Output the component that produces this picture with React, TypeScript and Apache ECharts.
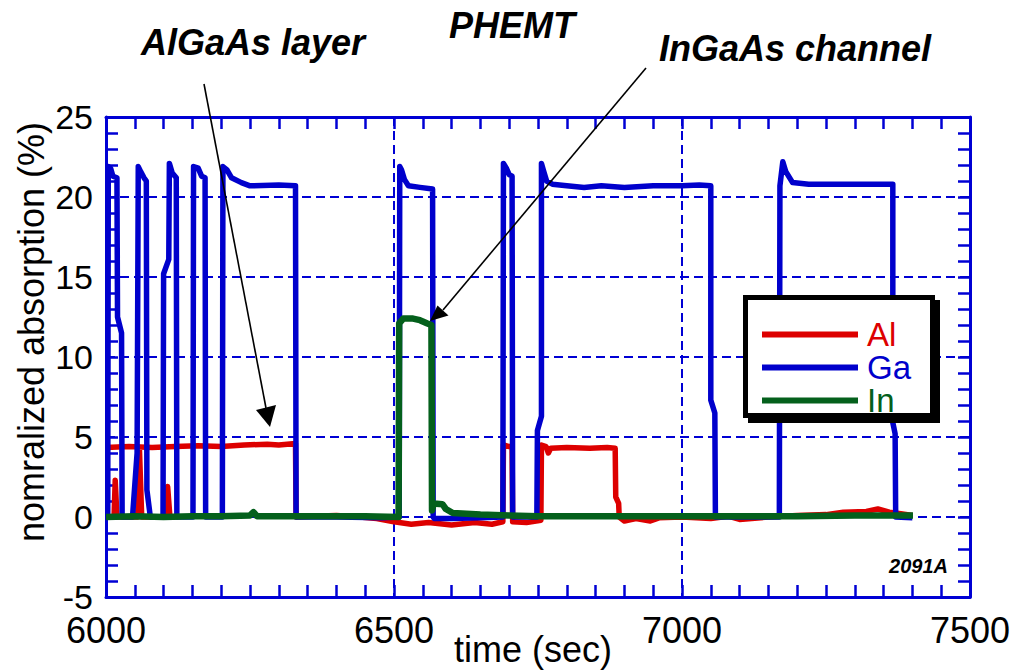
import React, { useEffect, useRef } from 'react';
import * as echarts from 'echarts';

const FONT = 'Arial, "Liberation Sans", Helvetica, sans-serif';
const AXIS_BLUE = '#0000d4';

const seriesNames = ['Al', 'Ga', 'In'];
const seriesColors = ['#dd0000', '#0000cc', '#04601c'];

const xTicks = [6000, 6500, 7000, 7500];
const yTicks = [-5, 0, 5, 10, 15, 20, 25];

// Ga (blue)
const gaTimes = [
  6000, 6003, 6004, 6008, 6012, 6019, 6020, 6027, 6028,
  6046, 6054, 6056, 6060, 6066, 6070, 6071, 6077,
  6099, 6100, 6109, 6110, 6115, 6122, 6123,
  6151, 6152, 6160, 6166, 6172, 6173,
  6202, 6203, 6210, 6218, 6235, 6250, 6300, 6329, 6330,
  6400, 6480, 6509, 6510, 6513, 6518, 6525, 6545, 6567, 6568,
  6570, 6600, 6650, 6689, 6690, 6695, 6700, 6705, 6706,
  6748, 6749, 6756, 6756, 6760, 6765, 6775, 6800, 6830, 6860, 6900, 6950, 7000, 7030, 7050, 7050, 7057, 7058,
  7120, 7169, 7170, 7175, 7180, 7192, 7220, 7300, 7366, 7366, 7370, 7371, 7400,
];
const gaValues = [
  0, 0, 21.9, 21.8, 21.3, 21.2, 12.5, 11.5, 0,
  0, 4.0, 21.9, 21.6, 21.2, 21.0, 1.7, 0,
  0, 15.2, 16.1, 22.1, 21.5, 21.2, 0,
  0, 21.9, 21.8, 21.3, 21.2, 0,
  0, 21.9, 21.7, 21.2, 20.9, 20.7, 20.75, 20.7, 0,
  0, -0.05, 0, 21.9, 21.7, 21.1, 20.7, 20.6, 20.5, 0,
  -0.1, -0.1, -0.05, 0, 22.1, 21.8, 21.4, 21.3, 0,
  0, 5.4, 6.3, 22.1, 21.6, 21.0, 20.8, 20.7, 20.6, 20.7, 20.6, 20.7, 20.7, 20.75, 20.7, 7.3, 6.5, 0,
  0, 0, 20.7, 22.2, 21.6, 20.9, 20.8, 20.8, 20.8, 5.9, 5.2, 0, -0.05,
];

// Al (red); null = gap in the trace
const alTimes = [
  6005, 6014, 6016, 6019, 6055, 6058, 6062, 6104, 6107, 6111, 6111,
  6000, 6040, 6080, 6120, 6160, 6200, 6240, 6280, 6300, 6329, 6330,
  6360, 6400, 6440, 6470, 6500, 6530, 6560, 6600, 6640, 6670, 6689,
  6690, 6700, 6705, 6706, 6730, 6755,
  6756, 6764, 6768, 6772, 6800, 6840, 6870, 6884, 6885, 6890, 6891,
  6900, 6920, 6945, 6960, 7000, 7050, 7080, 7100, 7150, 7200, 7250, 7280, 7320, 7340, 7360, 7380, 7400,
];
const alValues = [
  0, 0, 2.3, 0, 0, 4.3, 0, 0, 1.9, 0, null,
  4.35, 4.4, 4.35, 4.4, 4.45, 4.4, 4.5, 4.55, 4.5, 4.6, 0,
  0.05, 0.1, 0, -0.1, -0.3, -0.45, -0.35, -0.5, -0.35, -0.45, -0.3,
  4.5, 4.4, 4.4, -0.3, -0.35, -0.2,
  4.5, 4.4, 4.0, 4.3, 4.35, 4.3, 4.35, 4.3, 1.25, 0.85, 0,
  -0.25, -0.1, -0.25, -0.05, 0, -0.1, 0.05, -0.15, 0, 0.1, 0.15, 0.3, 0.35, 0.5, 0.3, 0.2, 0.1,
];

// In (green)
const inTimes = [
  6000, 6050, 6100, 6150, 6200, 6250, 6256, 6262, 6300, 6350, 6400, 6450, 6508,
  6509, 6516, 6533, 6545, 6558, 6565, 6566, 6569, 6584, 6590, 6602,
  6650, 6700, 6750, 6800, 6900, 7000, 7100, 7200, 7300, 7401,
];
const inValues = [
  0, 0.05, 0, 0.05, 0.05, 0.1, 0.3, 0.05, 0.05, 0.05, 0.05, 0.05, 0,
  12.1, 12.4, 12.4, 12.3, 12.1, 12.0, 0.4, 0.85, 0.8, 0.5, 0.25,
  0.15, 0.1, 0.05, 0.05, 0.05, 0.05, 0.05, 0.05, 0.1, 0.1,
];

const pairs = (ts: number[], vs: (number | null)[]) =>
  ts.map((t, i) => [t, vs[i] === null ? '-' : vs[i]]);

const annotations = {
  title: 'PHEMT',
  left: 'AlGaAs layer',
  right: 'InGaAs channel',
  code: '2091A',
  xName: 'time (sec)',
  yName: 'nomralized absorption (%)',
};

export default function App() {
  const ref = useRef<HTMLDivElement>(null);
  useEffect(() => {
    if (!ref.current) return;
    const chart = echarts.init(ref.current, undefined, { renderer: 'svg' });
    const tickStyle = { color: AXIS_BLUE, width: 2.5 };
    const baseX = {
      type: 'value',
      min: xTicks[0],
      max: xTicks[xTicks.length - 1],
      interval: xTicks[1] - xTicks[0],
      axisLine: { onZero: false, lineStyle: { color: AXIS_BLUE, width: 3 } },
      axisTick: { inside: true, length: 12, lineStyle: tickStyle },
      minorTick: { show: true, splitNumber: 10, length: 12, lineStyle: tickStyle },
    };
    const baseY = {
      type: 'value',
      min: yTicks[0],
      max: yTicks[yTicks.length - 1],
      interval: yTicks[1] - yTicks[0],
      axisLine: { onZero: false, lineStyle: { color: AXIS_BLUE, width: 3 } },
      axisTick: { inside: true, length: 12, lineStyle: tickStyle },
      minorTick: { show: true, splitNumber: 5, length: 12, lineStyle: tickStyle },
    };
    const splitLine = { show: true, lineStyle: { color: AXIS_BLUE, width: 2, type: [9, 5] } };
    const dataSets = [pairs(alTimes, alValues), pairs(gaTimes, gaValues), pairs(inTimes, inValues)];
    const widths = [5.5, 5.5, 6.5];

    const option: any = {
      animation: false,
      backgroundColor: '#ffffff',
      textStyle: { fontFamily: FONT },
      grid: { left: 106, top: 117, width: 864, height: 480, containLabel: false, outerBoundsMode: 'none' },
      xAxis: [
        {
          ...baseX,
          position: 'bottom',
          axisLabel: {
            margin: 15, fontSize: 36, color: '#000', fontFamily: FONT,
            formatter: (v: number) => String(v),
          },
          splitLine,
        },
        { ...baseX, position: 'top', axisLabel: { show: false }, splitLine: { show: false } },
      ],
      yAxis: [
        {
          ...baseY,
          position: 'left',
          axisLabel: {
            margin: 13, fontSize: 34, color: '#000', fontFamily: FONT, padding: [0, 0, 7, 0],
            formatter: (v: number) => String(v),
          },
          splitLine,
        },
        { ...baseY, position: 'right', axisLabel: { show: false }, splitLine: { show: false } },
      ],
      legend: {
        orient: 'vertical',
        left: 762,
        top: 318,
        padding: 0,
        itemGap: 0,
        itemWidth: 96,
        itemHeight: 6,
        icon: 'rect',
        selectedMode: false,
        z: 60,
        textStyle: { fontSize: 33, lineHeight: 25.5, fontFamily: FONT, padding: [0, 0, 0, 4] },
        data: seriesNames.map((n, i) => ({ name: n, textStyle: { color: seriesColors[i] } })),
      },
      series: seriesNames.map((n, i) => ({
        name: n,
        type: 'line',
        xAxisIndex: 0,
        yAxisIndex: 0,
        data: dataSets[i],
        showSymbol: false,
        symbol: 'none',
        connectNulls: false,
        color: seriesColors[i],
        itemStyle: { color: seriesColors[i] },
        lineStyle: { color: seriesColors[i], width: widths[i], join: 'round', cap: 'butt' },
        z: 2 + i,
      })),
      graphic: [
        { type: 'rect', z: 50, shape: { x: 750.5, y: 302.5, width: 187, height: 118 }, style: { fill: '#000', stroke: '#000', lineWidth: 5 } },
        { type: 'rect', z: 51, shape: { x: 745.5, y: 297.5, width: 187, height: 118 }, style: { fill: '#fff', stroke: '#000', lineWidth: 5 } },
        { type: 'line', z: 40, shape: { x1: 204, y1: 84, x2: 266, y2: 408 }, style: { stroke: '#000', lineWidth: 1.6 } },
        { type: 'polygon', z: 40, shape: { points: [[270, 427], [276, 405], [256, 410]] }, style: { fill: '#000' } },
        { type: 'line', z: 40, shape: { x1: 646, y1: 68, x2: 443, y2: 310 }, style: { stroke: '#000', lineWidth: 1.6 } },
        { type: 'polygon', z: 40, shape: { points: [[430, 321], [437.5, 305.5], [448.5, 315.5]] }, style: { fill: '#000' } },
        {
          type: 'text', z: 45, x: 512, y: 25,
          style: { text: annotations.title, fontSize: 36, fontWeight: 'bold', fontStyle: 'italic', fontFamily: FONT, fill: '#000', align: 'center', verticalAlign: 'middle' },
        },
        {
          type: 'text', z: 45, x: 141, y: 42,
          style: { text: annotations.left, fontSize: 36, fontWeight: 'bold', fontStyle: 'italic', fontFamily: FONT, fill: '#000', align: 'left', verticalAlign: 'middle' },
        },
        {
          type: 'text', z: 45, x: 659, y: 48,
          style: { text: annotations.right, fontSize: 36, fontWeight: 'bold', fontStyle: 'italic', fontFamily: FONT, fill: '#000', align: 'left', verticalAlign: 'middle' },
        },
        {
          type: 'text', z: 45, x: 948, y: 566,
          style: { text: annotations.code, fontSize: 20, fontWeight: 'bold', fontStyle: 'italic', fontFamily: FONT, fill: '#000', align: 'right', verticalAlign: 'middle' },
        },
        {
          type: 'text', z: 45, x: 533, y: 649,
          style: { text: annotations.xName, fontSize: 36, fontFamily: FONT, fill: '#000', align: 'center', verticalAlign: 'middle' },
        },
        {
          type: 'text', z: 45, x: 31, y: 332, rotation: Math.PI / 2,
          style: { text: annotations.yName, fontSize: 36, fontFamily: FONT, fill: '#000', align: 'center', verticalAlign: 'middle' },
        },
      ],
    };
    chart.setOption(option);
    return () => chart.dispose();
  }, []);
  return (
    <div
      ref={ref}
      style={{ position: 'fixed', left: 0, top: 0, width: 1013, height: 672, background: '#fff' }}
    />
  );
}
